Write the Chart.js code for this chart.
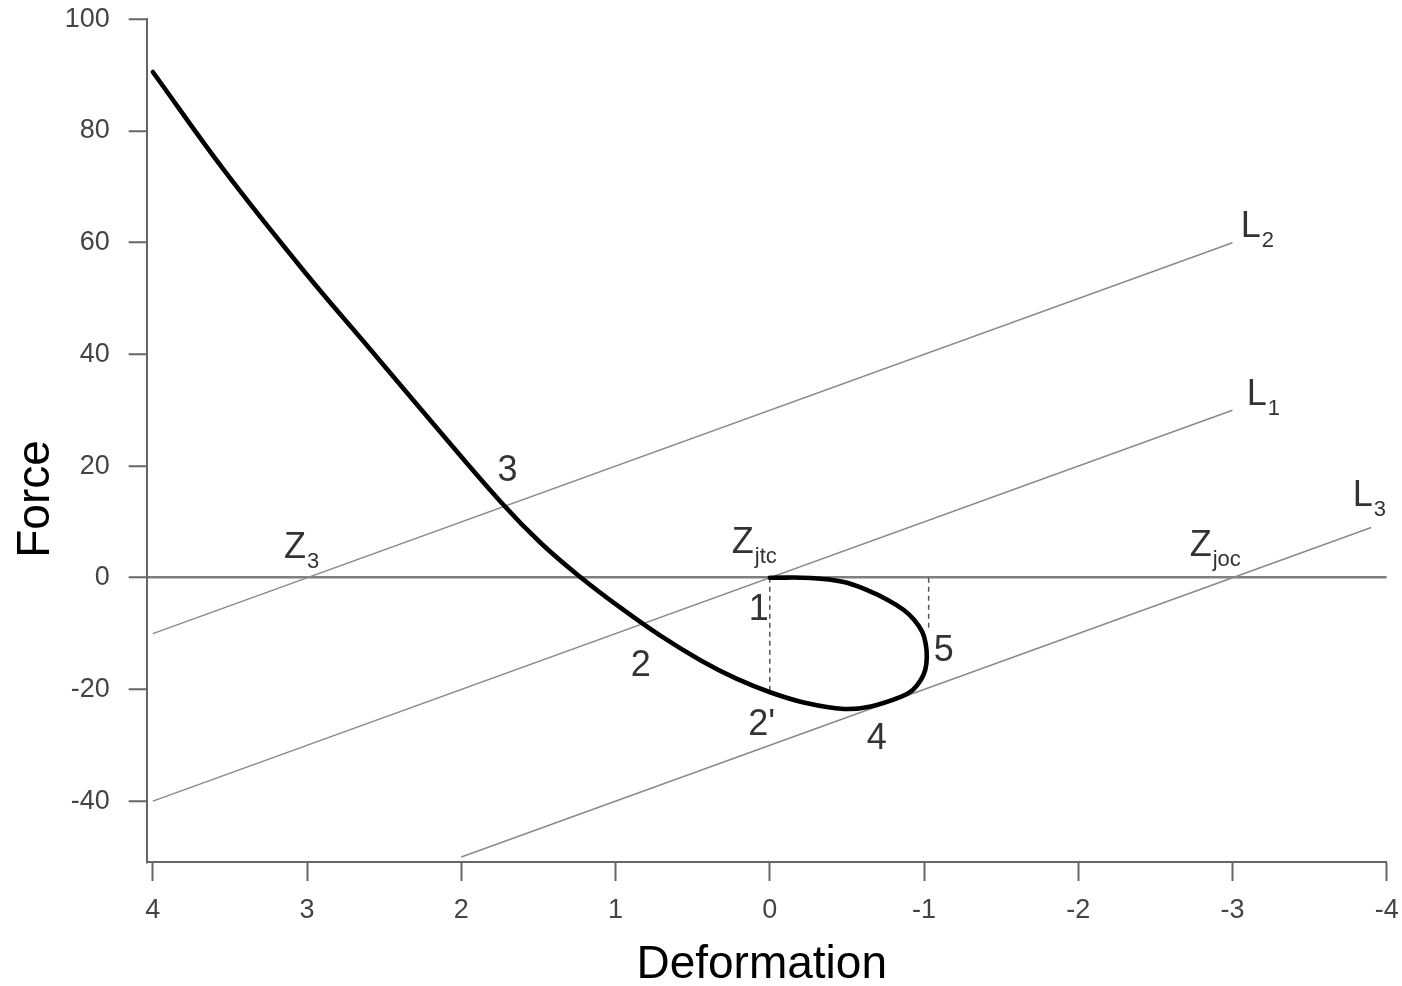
<!DOCTYPE html>
<html>
<head>
<meta charset="utf-8">
<script src="https://cdn.jsdelivr.net/npm/chart.js@4.4.1/dist/chart.umd.min.js"></script>
<style>
  html, body { margin: 0; padding: 0; background: #fff; }
  canvas { display: block; }
</style>
</head>
<body>
<canvas id="chart" width="1402" height="986"></canvas>
<script>
// Force–deformation characteristic; deformation runs from +4 (left) to -4 (right).
// The path runs down the loading branch, round the loop through 4 and 5, and back to Zjtc.
const curveDeformation = [4.000, 3.540, 3.021, 2.587, 2.178, 1.744, 1.485, 1.225, 0.966, 0.707, 0.447, 0.220, -0.006,
                          -0.233, -0.480, -0.655, -0.849, -0.927, -0.979, -1.008, -1.018, -1.011, -0.989,
                          -0.937, -0.869, -0.765, -0.635, -0.480, -0.266, 0.0];
const curveForce       = [90.56, 73.02, 54.93, 40.79, 27.45, 13.57, 6.23, 0.05, -5.41, -10.42, -14.81, -18.03, -20.54,
                          -22.42, -23.49, -23.04, -21.34, -20.09, -18.30, -16.51, -14.18, -11.85, -9.70,
                          -7.56, -5.77, -3.97, -2.27, -0.75, -0.04, 0.0];

// Load lines L1, L2, L3 (end points)
const lineL1Deformation = [4, -3];
const lineL1Force       = [-40, 30];
const lineL2Deformation = [4, -3];
const lineL2Force       = [-10, 60];
const lineL3Deformation = [2, -3.9];
const lineL3Force       = [-50, 9];

// Dashed drop lines at Zjtc (1 → 2') and at point 5
const drop1Deformation = [0, 0];
const drop1Force       = [0, -20.5];
const drop2Deformation = [-1.03, -1.03];
const drop2Force       = [0, -9];

// Tick values
const xTickValues = [4, 3, 2, 1, 0, -1, -2, -3, -4];
const yTickValues = [-40, -20, 0, 20, 40, 60, 80, 100];

// Point labels (text, subscript, deformation, force)
const labelText = ['3', 'Z', 'Z', 'Z', '1', '2', "2'", '4', '5', 'L', 'L', 'L'];
const labelSub  = ['', '3', 'jtc', 'joc', '', '', '', '', '', '2', '1', '3'];
const labelDeformation = [1.70, 3.079, 0.175, -2.794, 0.071, 0.836, 0.052, -0.694, -1.128, -3.118, -3.157, -3.844];
const labelForce       = [19.7, 5.87, 6.77, 6.23, -5.3, -15.3, -25.8, -28.3, -12.66, 63.3, 33.3, 15.2];

const FONT = '"Liberation Sans", Arial, Helvetica, sans-serif';

const toPoints = (xs, ys) => xs.map((x, i) => ({ x, y: ys[i] }));

const thinLine = { showLine: true, pointRadius: 0, fill: false, borderColor: '#8a8a8a', borderWidth: 1.5 };
const dashLine = { showLine: true, pointRadius: 0, fill: false, borderColor: '#555', borderWidth: 1.5, borderDash: [5, 4] };

const annotationPlugin = {
  id: 'pointLabels',
  afterDatasetsDraw(chart) {
    const { ctx, scales: { x, y } } = chart;
    ctx.save();
    ctx.fillStyle = '#333';
    labelText.forEach((t, i) => {
      const px = x.getPixelForValue(labelDeformation[i]);
      const py = y.getPixelForValue(labelForce[i]);
      const size = 36;
      ctx.font = size + 'px ' + FONT;
      ctx.textAlign = 'center';
      ctx.textBaseline = 'alphabetic';
      const base = py + 0.358 * size;
      ctx.fillText(t, px, base);
      if (labelSub[i]) {
        const w = ctx.measureText(t).width;
        ctx.font = '22px ' + FONT;
        ctx.textAlign = 'left';
        ctx.fillText(labelSub[i], px + w / 2 + 1, base + 10);
      }
    });

    // Axis titles
    const area = chart.chartArea;
    ctx.fillStyle = '#000';
    ctx.font = '46px ' + FONT;
    ctx.textAlign = 'center';
    ctx.textBaseline = 'alphabetic';
    ctx.fillText('Deformation', (area.left + area.right) / 2 - 5, chart.height - 8);
    ctx.translate(49, 499);
    ctx.rotate(-Math.PI / 2);
    ctx.fillText('Force', 0, 0);
    ctx.restore();
  }
};

const tickFont = { family: FONT, size: 27 };

new Chart(document.getElementById('chart').getContext('2d'), {
  type: 'scatter',
  data: {
    datasets: [
      { data: toPoints(curveDeformation, curveForce), showLine: true, pointRadius: 0, fill: false,
        borderColor: '#000', borderWidth: 4.6, tension: 0.4, borderCapStyle: 'round', borderJoinStyle: 'round' },
      { data: toPoints(drop1Deformation, drop1Force), ...dashLine },
      { data: toPoints(drop2Deformation, drop2Force), ...dashLine },
      { data: toPoints(lineL1Deformation, lineL1Force), ...thinLine },
      { data: toPoints(lineL2Deformation, lineL2Force), ...thinLine },
      { data: toPoints(lineL3Deformation, lineL3Force), ...thinLine }
    ]
  },
  options: {
    responsive: false,
    animation: false,
    devicePixelRatio: 1,
    layout: { padding: { top: 19.3, right: 15.3, bottom: 0, left: 0 } },
    plugins: { legend: { display: false }, tooltip: { enabled: false } },
    scales: {
      x: {
        type: 'linear',
        reverse: true,
        min: -4,
        max: 4.04,
        afterBuildTicks: s => { s.ticks = xTickValues.map(v => ({ value: v })); },
        afterFit: s => { s.height = 124; s.paddingLeft = 0; s.paddingRight = 0; },
        grid: { drawOnChartArea: false, tickLength: 19, tickColor: '#666', tickWidth: 2 },
        border: { color: '#666', width: 2 },
        ticks: { autoSkip: false, maxRotation: 0, padding: 13, color: '#444', font: tickFont }
      },
      y: {
        type: 'linear',
        min: -50.9,
        max: 100,
        afterBuildTicks: s => { s.ticks = yTickValues.map(v => ({ value: v })); },
        afterFit: s => { s.width = 146.7; s.paddingTop = 0; s.paddingBottom = 0; },
        grid: {
          color: c => (c.tick && c.tick.value === 0) ? '#7f7f7f' : 'rgba(0,0,0,0)',
          lineWidth: 2.5,
          tickLength: 18,
          tickColor: '#666',
          tickWidth: 2
        },
        border: { color: '#666', width: 2 },
        ticks: { autoSkip: false, padding: 19, color: '#444', font: tickFont }
      }
    }
  },
  plugins: [annotationPlugin]
});
</script>
</body>
</html>
